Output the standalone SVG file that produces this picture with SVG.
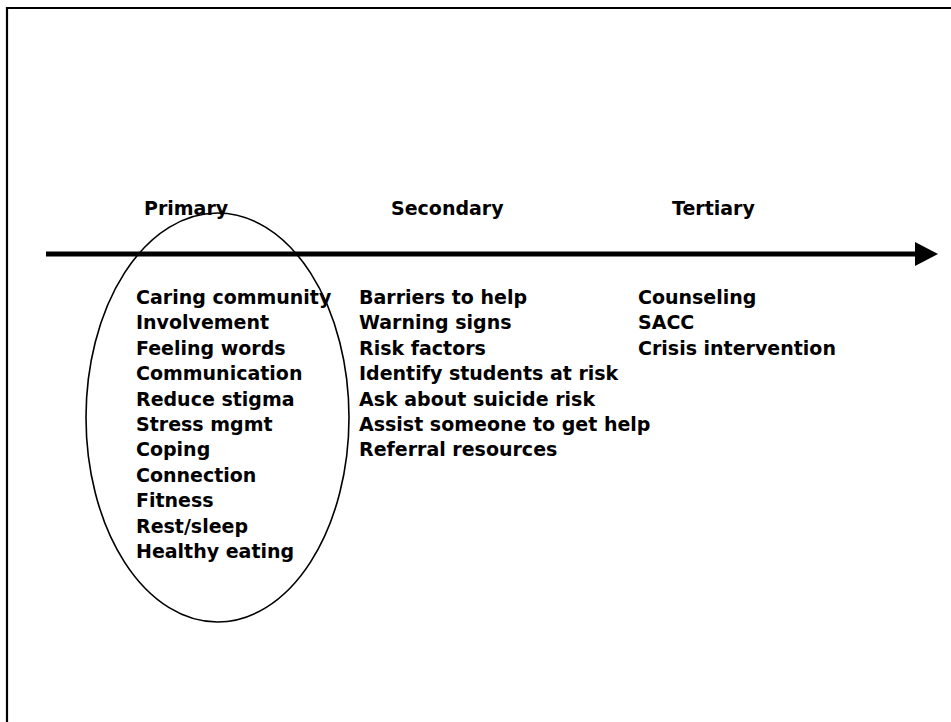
<svg xmlns="http://www.w3.org/2000/svg" width="951" height="722" viewBox="0 0 951 722">
<style>
text{font-family:"DejaVu Sans","Verdana",sans-serif;font-weight:bold;fill:#000;font-size:19px}
.hdr{font-size:19px}
.frame{stroke:#000;stroke-width:2.2;fill:none}
.conn{stroke:#000;stroke-width:5;fill:none}
.oval{stroke:#000;stroke-width:1.6;fill:none}
</style>
<defs>
<marker id="ah" markerUnits="userSpaceOnUse" markerWidth="24" markerHeight="26" refX="0" refY="12" orient="auto">
<path d="M0,0 L23,12 L0,24 Z" fill="#000"/>
</marker>
</defs>
<rect width="951" height="722" fill="#fff"/>
<path class="frame" d="M7,722 V8 H951"/>
<g id="connectors">
<line class="conn" x1="46" y1="254" x2="915" y2="254" marker-end="url(#ah)"/>
</g>
<g id="primary">
<text class="hdr" x="144" y="215">Primary</text>
<ellipse class="oval" cx="217.5" cy="417.5" rx="131.5" ry="204.5"/>
<text x="136" y="304">Caring community</text>
<text x="136" y="329.4">Involvement</text>
<text x="136" y="354.8">Feeling words</text>
<text x="136" y="380.2">Communication</text>
<text x="136" y="405.6">Reduce stigma</text>
<text x="136" y="431">Stress mgmt</text>
<text x="136" y="456.4">Coping</text>
<text x="136" y="481.8">Connection</text>
<text x="136" y="507.2">Fitness</text>
<text x="136" y="532.6">Rest/sleep</text>
<text x="136" y="558">Healthy eating</text>
</g>
<g id="secondary">
<text class="hdr" x="391" y="215">Secondary</text>
<text x="359" y="304">Barriers to help</text>
<text x="359" y="329.4">Warning signs</text>
<text x="359" y="354.8">Risk factors</text>
<text x="359" y="380.2">Identify students at risk</text>
<text x="359" y="405.6">Ask about suicide risk</text>
<text x="359" y="431">Assist someone to get help</text>
<text x="359" y="456.4">Referral resources</text>
</g>
<g id="tertiary">
<text class="hdr" x="672" y="215">Tertiary</text>
<text x="638" y="304">Counseling</text>
<text x="638" y="329.4">SACC</text>
<text x="638" y="354.8">Crisis intervention</text>
</g>
</svg>
